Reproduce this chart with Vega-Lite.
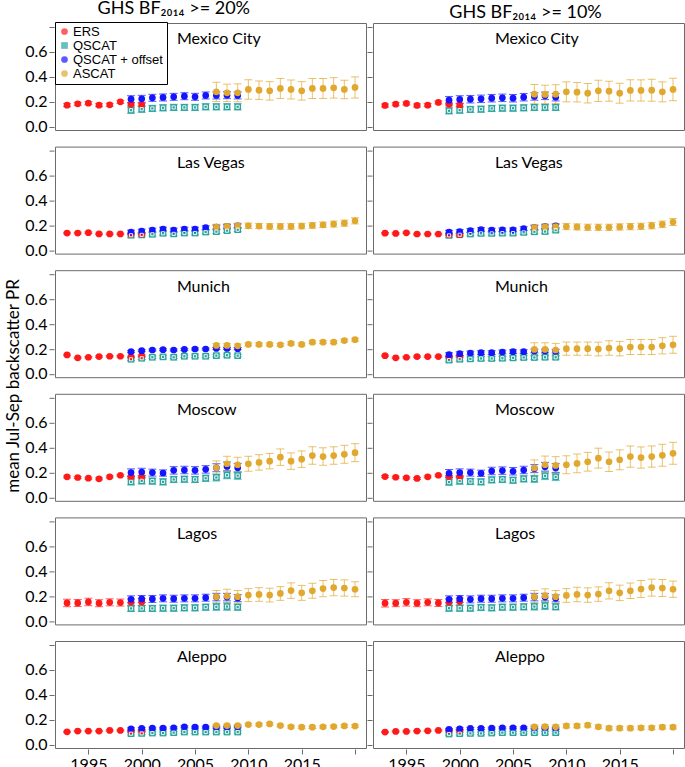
{
"$schema": "https://vega.github.io/schema/vega-lite/v6.json",
"padding": {"left": 4, "top": 0, "right": 0, "bottom": 0},
"config": {
  "font": "Lato",
  "view": {"stroke": "#6b6b6b", "strokeWidth": 1},
  "axis": {"labelFont": "Lato", "labelFontSize": 16, "labelColor": "#000", "tickColor": "#6b6b6b", "domain": false, "grid": false, "tickSize": 5, "labelPadding": 2, "labelOverlap": false, "labelBound": false, "minExtent": 0},
  "axisY": {"tickCount": 5},
  "title": {"font": "Lato", "fontSize": 18, "fontWeight": "normal", "anchor": "middle", "offset": 0.5, "color": "#000"}
},
"spacing": -1,
"data": {"values": [
{"c":"Mexico City","g":20,"s":"QSCAT","x":1999,"v":0.133,"e":0.025},
{"c":"Mexico City","g":20,"s":"QSCAT","x":2000,"v":0.141,"e":0.025},
{"c":"Mexico City","g":20,"s":"QSCAT","x":2001,"v":0.147,"e":0.025},
{"c":"Mexico City","g":20,"s":"QSCAT","x":2002,"v":0.152,"e":0.025},
{"c":"Mexico City","g":20,"s":"QSCAT","x":2003,"v":0.155,"e":0.025},
{"c":"Mexico City","g":20,"s":"QSCAT","x":2004,"v":0.155,"e":0.025},
{"c":"Mexico City","g":20,"s":"QSCAT","x":2005,"v":0.155,"e":0.025},
{"c":"Mexico City","g":20,"s":"QSCAT","x":2006,"v":0.16,"e":0.025},
{"c":"Mexico City","g":20,"s":"QSCAT","x":2007,"v":0.16,"e":0.025},
{"c":"Mexico City","g":20,"s":"QSCAT","x":2008,"v":0.16,"e":0.025},
{"c":"Mexico City","g":20,"s":"QSCAT","x":2009,"v":0.16,"e":0.025},
{"c":"Mexico City","g":20,"s":"ERS","x":1993,"v":0.173,"e":0.012},
{"c":"Mexico City","g":20,"s":"ERS","x":1994,"v":0.184,"e":0.012},
{"c":"Mexico City","g":20,"s":"ERS","x":1995,"v":0.189,"e":0.012},
{"c":"Mexico City","g":20,"s":"ERS","x":1996,"v":0.173,"e":0.012},
{"c":"Mexico City","g":20,"s":"ERS","x":1997,"v":0.176,"e":0.012},
{"c":"Mexico City","g":20,"s":"ERS","x":1998,"v":0.2,"e":0.012},
{"c":"Mexico City","g":20,"s":"ERS","x":1999,"v":0.18,"e":0.012},
{"c":"Mexico City","g":20,"s":"ERS","x":2000,"v":0.176,"e":0.012},
{"c":"Mexico City","g":20,"s":"QSCAT + offset","x":1999,"v":0.221,"e":0.028},
{"c":"Mexico City","g":20,"s":"QSCAT + offset","x":2000,"v":0.224,"e":0.028},
{"c":"Mexico City","g":20,"s":"QSCAT + offset","x":2001,"v":0.232,"e":0.028},
{"c":"Mexico City","g":20,"s":"QSCAT + offset","x":2002,"v":0.235,"e":0.028},
{"c":"Mexico City","g":20,"s":"QSCAT + offset","x":2003,"v":0.24,"e":0.028},
{"c":"Mexico City","g":20,"s":"QSCAT + offset","x":2004,"v":0.245,"e":0.028},
{"c":"Mexico City","g":20,"s":"QSCAT + offset","x":2005,"v":0.24,"e":0.028},
{"c":"Mexico City","g":20,"s":"QSCAT + offset","x":2006,"v":0.251,"e":0.028},
{"c":"Mexico City","g":20,"s":"QSCAT + offset","x":2007,"v":0.251,"e":0.028},
{"c":"Mexico City","g":20,"s":"QSCAT + offset","x":2008,"v":0.253,"e":0.028},
{"c":"Mexico City","g":20,"s":"QSCAT + offset","x":2009,"v":0.251,"e":0.028},
{"c":"Mexico City","g":20,"s":"ASCAT","x":2007,"v":0.28,"e":0.077},
{"c":"Mexico City","g":20,"s":"ASCAT","x":2008,"v":0.272,"e":0.07},
{"c":"Mexico City","g":20,"s":"ASCAT","x":2009,"v":0.272,"e":0.072},
{"c":"Mexico City","g":20,"s":"ASCAT","x":2010,"v":0.299,"e":0.078},
{"c":"Mexico City","g":20,"s":"ASCAT","x":2011,"v":0.293,"e":0.074},
{"c":"Mexico City","g":20,"s":"ASCAT","x":2012,"v":0.288,"e":0.074},
{"c":"Mexico City","g":20,"s":"ASCAT","x":2013,"v":0.307,"e":0.08},
{"c":"Mexico City","g":20,"s":"ASCAT","x":2014,"v":0.299,"e":0.076},
{"c":"Mexico City","g":20,"s":"ASCAT","x":2015,"v":0.288,"e":0.074},
{"c":"Mexico City","g":20,"s":"ASCAT","x":2016,"v":0.307,"e":0.08},
{"c":"Mexico City","g":20,"s":"ASCAT","x":2017,"v":0.307,"e":0.08},
{"c":"Mexico City","g":20,"s":"ASCAT","x":2018,"v":0.312,"e":0.082},
{"c":"Mexico City","g":20,"s":"ASCAT","x":2019,"v":0.299,"e":0.074},
{"c":"Mexico City","g":20,"s":"ASCAT","x":2020,"v":0.315,"e":0.085},
{"c":"Mexico City","g":10,"s":"QSCAT","x":1999,"v":0.128,"e":0.025},
{"c":"Mexico City","g":10,"s":"QSCAT","x":2000,"v":0.133,"e":0.025},
{"c":"Mexico City","g":10,"s":"QSCAT","x":2001,"v":0.139,"e":0.025},
{"c":"Mexico City","g":10,"s":"QSCAT","x":2002,"v":0.141,"e":0.025},
{"c":"Mexico City","g":10,"s":"QSCAT","x":2003,"v":0.147,"e":0.025},
{"c":"Mexico City","g":10,"s":"QSCAT","x":2004,"v":0.149,"e":0.025},
{"c":"Mexico City","g":10,"s":"QSCAT","x":2005,"v":0.149,"e":0.025},
{"c":"Mexico City","g":10,"s":"QSCAT","x":2006,"v":0.152,"e":0.025},
{"c":"Mexico City","g":10,"s":"QSCAT","x":2007,"v":0.155,"e":0.025},
{"c":"Mexico City","g":10,"s":"QSCAT","x":2008,"v":0.155,"e":0.025},
{"c":"Mexico City","g":10,"s":"QSCAT","x":2009,"v":0.155,"e":0.025},
{"c":"Mexico City","g":10,"s":"ERS","x":1993,"v":0.171,"e":0.012},
{"c":"Mexico City","g":10,"s":"ERS","x":1994,"v":0.181,"e":0.012},
{"c":"Mexico City","g":10,"s":"ERS","x":1995,"v":0.187,"e":0.012},
{"c":"Mexico City","g":10,"s":"ERS","x":1996,"v":0.171,"e":0.012},
{"c":"Mexico City","g":10,"s":"ERS","x":1997,"v":0.173,"e":0.012},
{"c":"Mexico City","g":10,"s":"ERS","x":1998,"v":0.195,"e":0.012},
{"c":"Mexico City","g":10,"s":"ERS","x":1999,"v":0.18,"e":0.012},
{"c":"Mexico City","g":10,"s":"ERS","x":2000,"v":0.173,"e":0.012},
{"c":"Mexico City","g":10,"s":"QSCAT + offset","x":1999,"v":0.213,"e":0.03},
{"c":"Mexico City","g":10,"s":"QSCAT + offset","x":2000,"v":0.219,"e":0.03},
{"c":"Mexico City","g":10,"s":"QSCAT + offset","x":2001,"v":0.221,"e":0.03},
{"c":"Mexico City","g":10,"s":"QSCAT + offset","x":2002,"v":0.224,"e":0.03},
{"c":"Mexico City","g":10,"s":"QSCAT + offset","x":2003,"v":0.229,"e":0.03},
{"c":"Mexico City","g":10,"s":"QSCAT + offset","x":2004,"v":0.232,"e":0.03},
{"c":"Mexico City","g":10,"s":"QSCAT + offset","x":2005,"v":0.229,"e":0.03},
{"c":"Mexico City","g":10,"s":"QSCAT + offset","x":2006,"v":0.237,"e":0.03},
{"c":"Mexico City","g":10,"s":"QSCAT + offset","x":2007,"v":0.243,"e":0.03},
{"c":"Mexico City","g":10,"s":"QSCAT + offset","x":2008,"v":0.248,"e":0.03},
{"c":"Mexico City","g":10,"s":"QSCAT + offset","x":2009,"v":0.237,"e":0.03},
{"c":"Mexico City","g":10,"s":"ASCAT","x":2007,"v":0.261,"e":0.078},
{"c":"Mexico City","g":10,"s":"ASCAT","x":2008,"v":0.259,"e":0.074},
{"c":"Mexico City","g":10,"s":"ASCAT","x":2009,"v":0.261,"e":0.076},
{"c":"Mexico City","g":10,"s":"ASCAT","x":2010,"v":0.28,"e":0.08},
{"c":"Mexico City","g":10,"s":"ASCAT","x":2011,"v":0.277,"e":0.078},
{"c":"Mexico City","g":10,"s":"ASCAT","x":2012,"v":0.269,"e":0.078},
{"c":"Mexico City","g":10,"s":"ASCAT","x":2013,"v":0.288,"e":0.085},
{"c":"Mexico City","g":10,"s":"ASCAT","x":2014,"v":0.285,"e":0.08},
{"c":"Mexico City","g":10,"s":"ASCAT","x":2015,"v":0.269,"e":0.08},
{"c":"Mexico City","g":10,"s":"ASCAT","x":2016,"v":0.291,"e":0.085},
{"c":"Mexico City","g":10,"s":"ASCAT","x":2017,"v":0.291,"e":0.085},
{"c":"Mexico City","g":10,"s":"ASCAT","x":2018,"v":0.293,"e":0.088},
{"c":"Mexico City","g":10,"s":"ASCAT","x":2019,"v":0.28,"e":0.08},
{"c":"Mexico City","g":10,"s":"ASCAT","x":2020,"v":0.299,"e":0.09},
{"c":"Las Vegas","g":20,"s":"QSCAT","x":1999,"v":0.121,"e":0.015},
{"c":"Las Vegas","g":20,"s":"QSCAT","x":2000,"v":0.124,"e":0.015},
{"c":"Las Vegas","g":20,"s":"QSCAT","x":2001,"v":0.129,"e":0.015},
{"c":"Las Vegas","g":20,"s":"QSCAT","x":2002,"v":0.137,"e":0.015},
{"c":"Las Vegas","g":20,"s":"QSCAT","x":2003,"v":0.132,"e":0.015},
{"c":"Las Vegas","g":20,"s":"QSCAT","x":2004,"v":0.139,"e":0.015},
{"c":"Las Vegas","g":20,"s":"QSCAT","x":2005,"v":0.139,"e":0.015},
{"c":"Las Vegas","g":20,"s":"QSCAT","x":2006,"v":0.147,"e":0.015},
{"c":"Las Vegas","g":20,"s":"QSCAT","x":2007,"v":0.15,"e":0.015},
{"c":"Las Vegas","g":20,"s":"QSCAT","x":2008,"v":0.158,"e":0.015},
{"c":"Las Vegas","g":20,"s":"QSCAT","x":2009,"v":0.166,"e":0.015},
{"c":"Las Vegas","g":20,"s":"ERS","x":1993,"v":0.139,"e":0.006},
{"c":"Las Vegas","g":20,"s":"ERS","x":1994,"v":0.139,"e":0.006},
{"c":"Las Vegas","g":20,"s":"ERS","x":1995,"v":0.142,"e":0.006},
{"c":"Las Vegas","g":20,"s":"ERS","x":1996,"v":0.132,"e":0.006},
{"c":"Las Vegas","g":20,"s":"ERS","x":1997,"v":0.132,"e":0.006},
{"c":"Las Vegas","g":20,"s":"ERS","x":1998,"v":0.132,"e":0.006},
{"c":"Las Vegas","g":20,"s":"ERS","x":1999,"v":0.13,"e":0.006},
{"c":"Las Vegas","g":20,"s":"ERS","x":2000,"v":0.13,"e":0.006},
{"c":"Las Vegas","g":20,"s":"QSCAT + offset","x":1999,"v":0.147,"e":0.015},
{"c":"Las Vegas","g":20,"s":"QSCAT + offset","x":2000,"v":0.155,"e":0.015},
{"c":"Las Vegas","g":20,"s":"QSCAT + offset","x":2001,"v":0.163,"e":0.015},
{"c":"Las Vegas","g":20,"s":"QSCAT + offset","x":2002,"v":0.171,"e":0.015},
{"c":"Las Vegas","g":20,"s":"QSCAT + offset","x":2003,"v":0.163,"e":0.015},
{"c":"Las Vegas","g":20,"s":"QSCAT + offset","x":2004,"v":0.171,"e":0.015},
{"c":"Las Vegas","g":20,"s":"QSCAT + offset","x":2005,"v":0.171,"e":0.015},
{"c":"Las Vegas","g":20,"s":"QSCAT + offset","x":2006,"v":0.182,"e":0.015},
{"c":"Las Vegas","g":20,"s":"QSCAT + offset","x":2007,"v":0.187,"e":0.015},
{"c":"Las Vegas","g":20,"s":"QSCAT + offset","x":2008,"v":0.192,"e":0.015},
{"c":"Las Vegas","g":20,"s":"QSCAT + offset","x":2009,"v":0.197,"e":0.015},
{"c":"Las Vegas","g":20,"s":"ASCAT","x":2007,"v":0.187,"e":0.022},
{"c":"Las Vegas","g":20,"s":"ASCAT","x":2008,"v":0.192,"e":0.022},
{"c":"Las Vegas","g":20,"s":"ASCAT","x":2009,"v":0.197,"e":0.022},
{"c":"Las Vegas","g":20,"s":"ASCAT","x":2010,"v":0.197,"e":0.022},
{"c":"Las Vegas","g":20,"s":"ASCAT","x":2011,"v":0.195,"e":0.02},
{"c":"Las Vegas","g":20,"s":"ASCAT","x":2012,"v":0.192,"e":0.022},
{"c":"Las Vegas","g":20,"s":"ASCAT","x":2013,"v":0.192,"e":0.022},
{"c":"Las Vegas","g":20,"s":"ASCAT","x":2014,"v":0.192,"e":0.022},
{"c":"Las Vegas","g":20,"s":"ASCAT","x":2015,"v":0.195,"e":0.022},
{"c":"Las Vegas","g":20,"s":"ASCAT","x":2016,"v":0.2,"e":0.022},
{"c":"Las Vegas","g":20,"s":"ASCAT","x":2017,"v":0.205,"e":0.022},
{"c":"Las Vegas","g":20,"s":"ASCAT","x":2018,"v":0.211,"e":0.024},
{"c":"Las Vegas","g":20,"s":"ASCAT","x":2019,"v":0.218,"e":0.024},
{"c":"Las Vegas","g":20,"s":"ASCAT","x":2020,"v":0.237,"e":0.025},
{"c":"Las Vegas","g":10,"s":"QSCAT","x":1999,"v":0.12,"e":0.015},
{"c":"Las Vegas","g":10,"s":"QSCAT","x":2000,"v":0.125,"e":0.015},
{"c":"Las Vegas","g":10,"s":"QSCAT","x":2001,"v":0.131,"e":0.015},
{"c":"Las Vegas","g":10,"s":"QSCAT","x":2002,"v":0.136,"e":0.015},
{"c":"Las Vegas","g":10,"s":"QSCAT","x":2003,"v":0.136,"e":0.015},
{"c":"Las Vegas","g":10,"s":"QSCAT","x":2004,"v":0.138,"e":0.015},
{"c":"Las Vegas","g":10,"s":"QSCAT","x":2005,"v":0.138,"e":0.015},
{"c":"Las Vegas","g":10,"s":"QSCAT","x":2006,"v":0.144,"e":0.015},
{"c":"Las Vegas","g":10,"s":"QSCAT","x":2007,"v":0.149,"e":0.015},
{"c":"Las Vegas","g":10,"s":"QSCAT","x":2008,"v":0.151,"e":0.015},
{"c":"Las Vegas","g":10,"s":"QSCAT","x":2009,"v":0.162,"e":0.015},
{"c":"Las Vegas","g":10,"s":"ERS","x":1993,"v":0.138,"e":0.006},
{"c":"Las Vegas","g":10,"s":"ERS","x":1994,"v":0.136,"e":0.006},
{"c":"Las Vegas","g":10,"s":"ERS","x":1995,"v":0.141,"e":0.006},
{"c":"Las Vegas","g":10,"s":"ERS","x":1996,"v":0.131,"e":0.006},
{"c":"Las Vegas","g":10,"s":"ERS","x":1997,"v":0.131,"e":0.006},
{"c":"Las Vegas","g":10,"s":"ERS","x":1998,"v":0.131,"e":0.006},
{"c":"Las Vegas","g":10,"s":"ERS","x":1999,"v":0.125,"e":0.006},
{"c":"Las Vegas","g":10,"s":"ERS","x":2000,"v":0.125,"e":0.006},
{"c":"Las Vegas","g":10,"s":"QSCAT + offset","x":1999,"v":0.146,"e":0.015},
{"c":"Las Vegas","g":10,"s":"QSCAT + offset","x":2000,"v":0.151,"e":0.015},
{"c":"Las Vegas","g":10,"s":"QSCAT + offset","x":2001,"v":0.159,"e":0.015},
{"c":"Las Vegas","g":10,"s":"QSCAT + offset","x":2002,"v":0.167,"e":0.015},
{"c":"Las Vegas","g":10,"s":"QSCAT + offset","x":2003,"v":0.162,"e":0.015},
{"c":"Las Vegas","g":10,"s":"QSCAT + offset","x":2004,"v":0.164,"e":0.015},
{"c":"Las Vegas","g":10,"s":"QSCAT + offset","x":2005,"v":0.164,"e":0.015},
{"c":"Las Vegas","g":10,"s":"QSCAT + offset","x":2006,"v":0.175,"e":0.015},
{"c":"Las Vegas","g":10,"s":"QSCAT + offset","x":2007,"v":0.183,"e":0.015},
{"c":"Las Vegas","g":10,"s":"QSCAT + offset","x":2008,"v":0.19,"e":0.015},
{"c":"Las Vegas","g":10,"s":"QSCAT + offset","x":2009,"v":0.196,"e":0.015},
{"c":"Las Vegas","g":10,"s":"ASCAT","x":2007,"v":0.183,"e":0.025},
{"c":"Las Vegas","g":10,"s":"ASCAT","x":2008,"v":0.188,"e":0.025},
{"c":"Las Vegas","g":10,"s":"ASCAT","x":2009,"v":0.191,"e":0.025},
{"c":"Las Vegas","g":10,"s":"ASCAT","x":2010,"v":0.191,"e":0.025},
{"c":"Las Vegas","g":10,"s":"ASCAT","x":2011,"v":0.188,"e":0.024},
{"c":"Las Vegas","g":10,"s":"ASCAT","x":2012,"v":0.185,"e":0.025},
{"c":"Las Vegas","g":10,"s":"ASCAT","x":2013,"v":0.185,"e":0.025},
{"c":"Las Vegas","g":10,"s":"ASCAT","x":2014,"v":0.185,"e":0.025},
{"c":"Las Vegas","g":10,"s":"ASCAT","x":2015,"v":0.188,"e":0.025},
{"c":"Las Vegas","g":10,"s":"ASCAT","x":2016,"v":0.191,"e":0.025},
{"c":"Las Vegas","g":10,"s":"ASCAT","x":2017,"v":0.193,"e":0.025},
{"c":"Las Vegas","g":10,"s":"ASCAT","x":2018,"v":0.198,"e":0.026},
{"c":"Las Vegas","g":10,"s":"ASCAT","x":2019,"v":0.209,"e":0.026},
{"c":"Las Vegas","g":10,"s":"ASCAT","x":2020,"v":0.227,"e":0.028},
{"c":"Munich","g":20,"s":"QSCAT","x":1999,"v":0.118,"e":0.01},
{"c":"Munich","g":20,"s":"QSCAT","x":2000,"v":0.126,"e":0.01},
{"c":"Munich","g":20,"s":"QSCAT","x":2001,"v":0.134,"e":0.01},
{"c":"Munich","g":20,"s":"QSCAT","x":2002,"v":0.137,"e":0.01},
{"c":"Munich","g":20,"s":"QSCAT","x":2003,"v":0.134,"e":0.01},
{"c":"Munich","g":20,"s":"QSCAT","x":2004,"v":0.142,"e":0.01},
{"c":"Munich","g":20,"s":"QSCAT","x":2005,"v":0.142,"e":0.01},
{"c":"Munich","g":20,"s":"QSCAT","x":2006,"v":0.142,"e":0.01},
{"c":"Munich","g":20,"s":"QSCAT","x":2007,"v":0.147,"e":0.01},
{"c":"Munich","g":20,"s":"QSCAT","x":2008,"v":0.15,"e":0.01},
{"c":"Munich","g":20,"s":"QSCAT","x":2009,"v":0.147,"e":0.01},
{"c":"Munich","g":20,"s":"ERS","x":1993,"v":0.153,"e":0.006},
{"c":"Munich","g":20,"s":"ERS","x":1994,"v":0.129,"e":0.006},
{"c":"Munich","g":20,"s":"ERS","x":1995,"v":0.134,"e":0.006},
{"c":"Munich","g":20,"s":"ERS","x":1996,"v":0.139,"e":0.006},
{"c":"Munich","g":20,"s":"ERS","x":1997,"v":0.142,"e":0.006},
{"c":"Munich","g":20,"s":"ERS","x":1998,"v":0.142,"e":0.006},
{"c":"Munich","g":20,"s":"ERS","x":1999,"v":0.137,"e":0.006},
{"c":"Munich","g":20,"s":"ERS","x":2000,"v":0.147,"e":0.006},
{"c":"Munich","g":20,"s":"QSCAT + offset","x":1999,"v":0.179,"e":0.008},
{"c":"Munich","g":20,"s":"QSCAT + offset","x":2000,"v":0.187,"e":0.008},
{"c":"Munich","g":20,"s":"QSCAT + offset","x":2001,"v":0.192,"e":0.008},
{"c":"Munich","g":20,"s":"QSCAT + offset","x":2002,"v":0.195,"e":0.008},
{"c":"Munich","g":20,"s":"QSCAT + offset","x":2003,"v":0.192,"e":0.008},
{"c":"Munich","g":20,"s":"QSCAT + offset","x":2004,"v":0.197,"e":0.008},
{"c":"Munich","g":20,"s":"QSCAT + offset","x":2005,"v":0.2,"e":0.008},
{"c":"Munich","g":20,"s":"QSCAT + offset","x":2006,"v":0.2,"e":0.008},
{"c":"Munich","g":20,"s":"QSCAT + offset","x":2007,"v":0.205,"e":0.008},
{"c":"Munich","g":20,"s":"QSCAT + offset","x":2008,"v":0.205,"e":0.008},
{"c":"Munich","g":20,"s":"QSCAT + offset","x":2009,"v":0.203,"e":0.008},
{"c":"Munich","g":20,"s":"ASCAT","x":2007,"v":0.229,"e":0.014},
{"c":"Munich","g":20,"s":"ASCAT","x":2008,"v":0.229,"e":0.014},
{"c":"Munich","g":20,"s":"ASCAT","x":2009,"v":0.226,"e":0.014},
{"c":"Munich","g":20,"s":"ASCAT","x":2010,"v":0.237,"e":0.012},
{"c":"Munich","g":20,"s":"ASCAT","x":2011,"v":0.237,"e":0.012},
{"c":"Munich","g":20,"s":"ASCAT","x":2012,"v":0.237,"e":0.012},
{"c":"Munich","g":20,"s":"ASCAT","x":2013,"v":0.234,"e":0.012},
{"c":"Munich","g":20,"s":"ASCAT","x":2014,"v":0.245,"e":0.012},
{"c":"Munich","g":20,"s":"ASCAT","x":2015,"v":0.237,"e":0.012},
{"c":"Munich","g":20,"s":"ASCAT","x":2016,"v":0.255,"e":0.012},
{"c":"Munich","g":20,"s":"ASCAT","x":2017,"v":0.255,"e":0.012},
{"c":"Munich","g":20,"s":"ASCAT","x":2018,"v":0.255,"e":0.012},
{"c":"Munich","g":20,"s":"ASCAT","x":2019,"v":0.268,"e":0.012},
{"c":"Munich","g":20,"s":"ASCAT","x":2020,"v":0.275,"e":0.012},
{"c":"Munich","g":10,"s":"QSCAT","x":1999,"v":0.111,"e":0.015},
{"c":"Munich","g":10,"s":"QSCAT","x":2000,"v":0.118,"e":0.015},
{"c":"Munich","g":10,"s":"QSCAT","x":2001,"v":0.121,"e":0.015},
{"c":"Munich","g":10,"s":"QSCAT","x":2002,"v":0.124,"e":0.015},
{"c":"Munich","g":10,"s":"QSCAT","x":2003,"v":0.124,"e":0.015},
{"c":"Munich","g":10,"s":"QSCAT","x":2004,"v":0.126,"e":0.015},
{"c":"Munich","g":10,"s":"QSCAT","x":2005,"v":0.129,"e":0.015},
{"c":"Munich","g":10,"s":"QSCAT","x":2006,"v":0.132,"e":0.015},
{"c":"Munich","g":10,"s":"QSCAT","x":2007,"v":0.132,"e":0.015},
{"c":"Munich","g":10,"s":"QSCAT","x":2008,"v":0.134,"e":0.015},
{"c":"Munich","g":10,"s":"QSCAT","x":2009,"v":0.134,"e":0.015},
{"c":"Munich","g":10,"s":"ERS","x":1993,"v":0.147,"e":0.006},
{"c":"Munich","g":10,"s":"ERS","x":1994,"v":0.129,"e":0.006},
{"c":"Munich","g":10,"s":"ERS","x":1995,"v":0.134,"e":0.006},
{"c":"Munich","g":10,"s":"ERS","x":1996,"v":0.139,"e":0.006},
{"c":"Munich","g":10,"s":"ERS","x":1997,"v":0.139,"e":0.006},
{"c":"Munich","g":10,"s":"ERS","x":1998,"v":0.139,"e":0.006},
{"c":"Munich","g":10,"s":"ERS","x":1999,"v":0.139,"e":0.006},
{"c":"Munich","g":10,"s":"ERS","x":2000,"v":0.145,"e":0.006},
{"c":"Munich","g":10,"s":"QSCAT + offset","x":1999,"v":0.155,"e":0.015},
{"c":"Munich","g":10,"s":"QSCAT + offset","x":2000,"v":0.163,"e":0.015},
{"c":"Munich","g":10,"s":"QSCAT + offset","x":2001,"v":0.168,"e":0.015},
{"c":"Munich","g":10,"s":"QSCAT + offset","x":2002,"v":0.171,"e":0.015},
{"c":"Munich","g":10,"s":"QSCAT + offset","x":2003,"v":0.171,"e":0.015},
{"c":"Munich","g":10,"s":"QSCAT + offset","x":2004,"v":0.176,"e":0.015},
{"c":"Munich","g":10,"s":"QSCAT + offset","x":2005,"v":0.179,"e":0.015},
{"c":"Munich","g":10,"s":"QSCAT + offset","x":2006,"v":0.179,"e":0.015},
{"c":"Munich","g":10,"s":"QSCAT + offset","x":2007,"v":0.184,"e":0.015},
{"c":"Munich","g":10,"s":"QSCAT + offset","x":2008,"v":0.184,"e":0.015},
{"c":"Munich","g":10,"s":"QSCAT + offset","x":2009,"v":0.182,"e":0.015},
{"c":"Munich","g":10,"s":"ASCAT","x":2007,"v":0.197,"e":0.053},
{"c":"Munich","g":10,"s":"ASCAT","x":2008,"v":0.197,"e":0.053},
{"c":"Munich","g":10,"s":"ASCAT","x":2009,"v":0.192,"e":0.053},
{"c":"Munich","g":10,"s":"ASCAT","x":2010,"v":0.203,"e":0.053},
{"c":"Munich","g":10,"s":"ASCAT","x":2011,"v":0.203,"e":0.053},
{"c":"Munich","g":10,"s":"ASCAT","x":2012,"v":0.203,"e":0.053},
{"c":"Munich","g":10,"s":"ASCAT","x":2013,"v":0.2,"e":0.055},
{"c":"Munich","g":10,"s":"ASCAT","x":2014,"v":0.208,"e":0.058},
{"c":"Munich","g":10,"s":"ASCAT","x":2015,"v":0.203,"e":0.058},
{"c":"Munich","g":10,"s":"ASCAT","x":2016,"v":0.216,"e":0.06},
{"c":"Munich","g":10,"s":"ASCAT","x":2017,"v":0.216,"e":0.06},
{"c":"Munich","g":10,"s":"ASCAT","x":2018,"v":0.216,"e":0.06},
{"c":"Munich","g":10,"s":"ASCAT","x":2019,"v":0.226,"e":0.065},
{"c":"Munich","g":10,"s":"ASCAT","x":2020,"v":0.234,"e":0.068},
{"c":"Moscow","g":20,"s":"QSCAT","x":1999,"v":0.126,"e":0.025},
{"c":"Moscow","g":20,"s":"QSCAT","x":2000,"v":0.134,"e":0.025},
{"c":"Moscow","g":20,"s":"QSCAT","x":2001,"v":0.132,"e":0.025},
{"c":"Moscow","g":20,"s":"QSCAT","x":2002,"v":0.126,"e":0.025},
{"c":"Moscow","g":20,"s":"QSCAT","x":2003,"v":0.145,"e":0.025},
{"c":"Moscow","g":20,"s":"QSCAT","x":2004,"v":0.147,"e":0.025},
{"c":"Moscow","g":20,"s":"QSCAT","x":2005,"v":0.145,"e":0.025},
{"c":"Moscow","g":20,"s":"QSCAT","x":2006,"v":0.155,"e":0.025},
{"c":"Moscow","g":20,"s":"QSCAT","x":2007,"v":0.161,"e":0.028},
{"c":"Moscow","g":20,"s":"QSCAT","x":2008,"v":0.179,"e":0.028},
{"c":"Moscow","g":20,"s":"QSCAT","x":2009,"v":0.176,"e":0.03},
{"c":"Moscow","g":20,"s":"ERS","x":1993,"v":0.166,"e":0.008},
{"c":"Moscow","g":20,"s":"ERS","x":1994,"v":0.161,"e":0.008},
{"c":"Moscow","g":20,"s":"ERS","x":1995,"v":0.155,"e":0.008},
{"c":"Moscow","g":20,"s":"ERS","x":1996,"v":0.15,"e":0.008},
{"c":"Moscow","g":20,"s":"ERS","x":1997,"v":0.166,"e":0.008},
{"c":"Moscow","g":20,"s":"ERS","x":1998,"v":0.179,"e":0.008},
{"c":"Moscow","g":20,"s":"ERS","x":1999,"v":0.166,"e":0.008},
{"c":"Moscow","g":20,"s":"ERS","x":2000,"v":0.166,"e":0.008},
{"c":"Moscow","g":20,"s":"QSCAT + offset","x":1999,"v":0.2,"e":0.03},
{"c":"Moscow","g":20,"s":"QSCAT + offset","x":2000,"v":0.205,"e":0.03},
{"c":"Moscow","g":20,"s":"QSCAT + offset","x":2001,"v":0.2,"e":0.028},
{"c":"Moscow","g":20,"s":"QSCAT + offset","x":2002,"v":0.197,"e":0.025},
{"c":"Moscow","g":20,"s":"QSCAT + offset","x":2003,"v":0.218,"e":0.03},
{"c":"Moscow","g":20,"s":"QSCAT + offset","x":2004,"v":0.221,"e":0.03},
{"c":"Moscow","g":20,"s":"QSCAT + offset","x":2005,"v":0.218,"e":0.03},
{"c":"Moscow","g":20,"s":"QSCAT + offset","x":2006,"v":0.226,"e":0.03},
{"c":"Moscow","g":20,"s":"QSCAT + offset","x":2007,"v":0.239,"e":0.032},
{"c":"Moscow","g":20,"s":"QSCAT + offset","x":2008,"v":0.25,"e":0.035},
{"c":"Moscow","g":20,"s":"QSCAT + offset","x":2009,"v":0.239,"e":0.035},
{"c":"Moscow","g":20,"s":"ASCAT","x":2007,"v":0.239,"e":0.055},
{"c":"Moscow","g":20,"s":"ASCAT","x":2008,"v":0.271,"e":0.06},
{"c":"Moscow","g":20,"s":"ASCAT","x":2009,"v":0.263,"e":0.06},
{"c":"Moscow","g":20,"s":"ASCAT","x":2010,"v":0.271,"e":0.06},
{"c":"Moscow","g":20,"s":"ASCAT","x":2011,"v":0.282,"e":0.062},
{"c":"Moscow","g":20,"s":"ASCAT","x":2012,"v":0.292,"e":0.062},
{"c":"Moscow","g":20,"s":"ASCAT","x":2013,"v":0.324,"e":0.066},
{"c":"Moscow","g":20,"s":"ASCAT","x":2014,"v":0.292,"e":0.066},
{"c":"Moscow","g":20,"s":"ASCAT","x":2015,"v":0.308,"e":0.066},
{"c":"Moscow","g":20,"s":"ASCAT","x":2016,"v":0.337,"e":0.07},
{"c":"Moscow","g":20,"s":"ASCAT","x":2017,"v":0.329,"e":0.07},
{"c":"Moscow","g":20,"s":"ASCAT","x":2018,"v":0.337,"e":0.07},
{"c":"Moscow","g":20,"s":"ASCAT","x":2019,"v":0.347,"e":0.072},
{"c":"Moscow","g":20,"s":"ASCAT","x":2020,"v":0.36,"e":0.072},
{"c":"Moscow","g":10,"s":"QSCAT","x":1999,"v":0.124,"e":0.025},
{"c":"Moscow","g":10,"s":"QSCAT","x":2000,"v":0.132,"e":0.025},
{"c":"Moscow","g":10,"s":"QSCAT","x":2001,"v":0.129,"e":0.025},
{"c":"Moscow","g":10,"s":"QSCAT","x":2002,"v":0.126,"e":0.025},
{"c":"Moscow","g":10,"s":"QSCAT","x":2003,"v":0.142,"e":0.025},
{"c":"Moscow","g":10,"s":"QSCAT","x":2004,"v":0.145,"e":0.025},
{"c":"Moscow","g":10,"s":"QSCAT","x":2005,"v":0.139,"e":0.025},
{"c":"Moscow","g":10,"s":"QSCAT","x":2006,"v":0.15,"e":0.025},
{"c":"Moscow","g":10,"s":"QSCAT","x":2007,"v":0.15,"e":0.028},
{"c":"Moscow","g":10,"s":"QSCAT","x":2008,"v":0.174,"e":0.03},
{"c":"Moscow","g":10,"s":"QSCAT","x":2009,"v":0.166,"e":0.03},
{"c":"Moscow","g":10,"s":"ERS","x":1993,"v":0.168,"e":0.008},
{"c":"Moscow","g":10,"s":"ERS","x":1994,"v":0.163,"e":0.008},
{"c":"Moscow","g":10,"s":"ERS","x":1995,"v":0.158,"e":0.008},
{"c":"Moscow","g":10,"s":"ERS","x":1996,"v":0.153,"e":0.008},
{"c":"Moscow","g":10,"s":"ERS","x":1997,"v":0.166,"e":0.008},
{"c":"Moscow","g":10,"s":"ERS","x":1998,"v":0.179,"e":0.008},
{"c":"Moscow","g":10,"s":"ERS","x":1999,"v":0.168,"e":0.008},
{"c":"Moscow","g":10,"s":"ERS","x":2000,"v":0.168,"e":0.008},
{"c":"Moscow","g":10,"s":"QSCAT + offset","x":1999,"v":0.195,"e":0.03},
{"c":"Moscow","g":10,"s":"QSCAT + offset","x":2000,"v":0.2,"e":0.03},
{"c":"Moscow","g":10,"s":"QSCAT + offset","x":2001,"v":0.2,"e":0.028},
{"c":"Moscow","g":10,"s":"QSCAT + offset","x":2002,"v":0.195,"e":0.025},
{"c":"Moscow","g":10,"s":"QSCAT + offset","x":2003,"v":0.213,"e":0.03},
{"c":"Moscow","g":10,"s":"QSCAT + offset","x":2004,"v":0.216,"e":0.03},
{"c":"Moscow","g":10,"s":"QSCAT + offset","x":2005,"v":0.211,"e":0.03},
{"c":"Moscow","g":10,"s":"QSCAT + offset","x":2006,"v":0.221,"e":0.03},
{"c":"Moscow","g":10,"s":"QSCAT + offset","x":2007,"v":0.232,"e":0.032},
{"c":"Moscow","g":10,"s":"QSCAT + offset","x":2008,"v":0.247,"e":0.035},
{"c":"Moscow","g":10,"s":"QSCAT + offset","x":2009,"v":0.237,"e":0.035},
{"c":"Moscow","g":10,"s":"ASCAT","x":2007,"v":0.237,"e":0.065},
{"c":"Moscow","g":10,"s":"ASCAT","x":2008,"v":0.263,"e":0.07},
{"c":"Moscow","g":10,"s":"ASCAT","x":2009,"v":0.258,"e":0.07},
{"c":"Moscow","g":10,"s":"ASCAT","x":2010,"v":0.263,"e":0.072},
{"c":"Moscow","g":10,"s":"ASCAT","x":2011,"v":0.274,"e":0.075},
{"c":"Moscow","g":10,"s":"ASCAT","x":2012,"v":0.287,"e":0.075},
{"c":"Moscow","g":10,"s":"ASCAT","x":2013,"v":0.316,"e":0.08},
{"c":"Moscow","g":10,"s":"ASCAT","x":2014,"v":0.287,"e":0.078},
{"c":"Moscow","g":10,"s":"ASCAT","x":2015,"v":0.303,"e":0.08},
{"c":"Moscow","g":10,"s":"ASCAT","x":2016,"v":0.329,"e":0.085},
{"c":"Moscow","g":10,"s":"ASCAT","x":2017,"v":0.321,"e":0.085},
{"c":"Moscow","g":10,"s":"ASCAT","x":2018,"v":0.329,"e":0.085},
{"c":"Moscow","g":10,"s":"ASCAT","x":2019,"v":0.339,"e":0.088},
{"c":"Moscow","g":10,"s":"ASCAT","x":2020,"v":0.355,"e":0.088},
{"c":"Lagos","g":20,"s":"QSCAT","x":1999,"v":0.102,"e":0.025},
{"c":"Lagos","g":20,"s":"QSCAT","x":2000,"v":0.102,"e":0.025},
{"c":"Lagos","g":20,"s":"QSCAT","x":2001,"v":0.102,"e":0.025},
{"c":"Lagos","g":20,"s":"QSCAT","x":2002,"v":0.104,"e":0.025},
{"c":"Lagos","g":20,"s":"QSCAT","x":2003,"v":0.104,"e":0.025},
{"c":"Lagos","g":20,"s":"QSCAT","x":2004,"v":0.107,"e":0.025},
{"c":"Lagos","g":20,"s":"QSCAT","x":2005,"v":0.107,"e":0.025},
{"c":"Lagos","g":20,"s":"QSCAT","x":2006,"v":0.112,"e":0.025},
{"c":"Lagos","g":20,"s":"QSCAT","x":2007,"v":0.115,"e":0.028},
{"c":"Lagos","g":20,"s":"QSCAT","x":2008,"v":0.117,"e":0.03},
{"c":"Lagos","g":20,"s":"QSCAT","x":2009,"v":0.112,"e":0.025},
{"c":"Lagos","g":20,"s":"ERS","x":1993,"v":0.146,"e":0.03},
{"c":"Lagos","g":20,"s":"ERS","x":1994,"v":0.146,"e":0.028},
{"c":"Lagos","g":20,"s":"ERS","x":1995,"v":0.154,"e":0.03},
{"c":"Lagos","g":20,"s":"ERS","x":1996,"v":0.144,"e":0.028},
{"c":"Lagos","g":20,"s":"ERS","x":1997,"v":0.151,"e":0.028},
{"c":"Lagos","g":20,"s":"ERS","x":1998,"v":0.149,"e":0.028},
{"c":"Lagos","g":20,"s":"ERS","x":1999,"v":0.151,"e":0.028},
{"c":"Lagos","g":20,"s":"ERS","x":2000,"v":0.154,"e":0.028},
{"c":"Lagos","g":20,"s":"QSCAT + offset","x":1999,"v":0.175,"e":0.028},
{"c":"Lagos","g":20,"s":"QSCAT + offset","x":2000,"v":0.178,"e":0.028},
{"c":"Lagos","g":20,"s":"QSCAT + offset","x":2001,"v":0.178,"e":0.028},
{"c":"Lagos","g":20,"s":"QSCAT + offset","x":2002,"v":0.183,"e":0.028},
{"c":"Lagos","g":20,"s":"QSCAT + offset","x":2003,"v":0.18,"e":0.028},
{"c":"Lagos","g":20,"s":"QSCAT + offset","x":2004,"v":0.183,"e":0.028},
{"c":"Lagos","g":20,"s":"QSCAT + offset","x":2005,"v":0.183,"e":0.028},
{"c":"Lagos","g":20,"s":"QSCAT + offset","x":2006,"v":0.188,"e":0.028},
{"c":"Lagos","g":20,"s":"QSCAT + offset","x":2007,"v":0.193,"e":0.03},
{"c":"Lagos","g":20,"s":"QSCAT + offset","x":2008,"v":0.193,"e":0.03},
{"c":"Lagos","g":20,"s":"QSCAT + offset","x":2009,"v":0.185,"e":0.028},
{"c":"Lagos","g":20,"s":"ASCAT","x":2007,"v":0.196,"e":0.05},
{"c":"Lagos","g":20,"s":"ASCAT","x":2008,"v":0.201,"e":0.055},
{"c":"Lagos","g":20,"s":"ASCAT","x":2009,"v":0.196,"e":0.05},
{"c":"Lagos","g":20,"s":"ASCAT","x":2010,"v":0.209,"e":0.052},
{"c":"Lagos","g":20,"s":"ASCAT","x":2011,"v":0.214,"e":0.055},
{"c":"Lagos","g":20,"s":"ASCAT","x":2012,"v":0.209,"e":0.055},
{"c":"Lagos","g":20,"s":"ASCAT","x":2013,"v":0.222,"e":0.055},
{"c":"Lagos","g":20,"s":"ASCAT","x":2014,"v":0.245,"e":0.062},
{"c":"Lagos","g":20,"s":"ASCAT","x":2015,"v":0.227,"e":0.06},
{"c":"Lagos","g":20,"s":"ASCAT","x":2016,"v":0.243,"e":0.06},
{"c":"Lagos","g":20,"s":"ASCAT","x":2017,"v":0.261,"e":0.065},
{"c":"Lagos","g":20,"s":"ASCAT","x":2018,"v":0.269,"e":0.065},
{"c":"Lagos","g":20,"s":"ASCAT","x":2019,"v":0.266,"e":0.065},
{"c":"Lagos","g":20,"s":"ASCAT","x":2020,"v":0.256,"e":0.06},
{"c":"Lagos","g":10,"s":"QSCAT","x":1999,"v":0.104,"e":0.025},
{"c":"Lagos","g":10,"s":"QSCAT","x":2000,"v":0.104,"e":0.025},
{"c":"Lagos","g":10,"s":"QSCAT","x":2001,"v":0.104,"e":0.025},
{"c":"Lagos","g":10,"s":"QSCAT","x":2002,"v":0.11,"e":0.025},
{"c":"Lagos","g":10,"s":"QSCAT","x":2003,"v":0.107,"e":0.025},
{"c":"Lagos","g":10,"s":"QSCAT","x":2004,"v":0.112,"e":0.025},
{"c":"Lagos","g":10,"s":"QSCAT","x":2005,"v":0.112,"e":0.025},
{"c":"Lagos","g":10,"s":"QSCAT","x":2006,"v":0.115,"e":0.025},
{"c":"Lagos","g":10,"s":"QSCAT","x":2007,"v":0.117,"e":0.028},
{"c":"Lagos","g":10,"s":"QSCAT","x":2008,"v":0.123,"e":0.03},
{"c":"Lagos","g":10,"s":"QSCAT","x":2009,"v":0.115,"e":0.025},
{"c":"Lagos","g":10,"s":"ERS","x":1993,"v":0.144,"e":0.03},
{"c":"Lagos","g":10,"s":"ERS","x":1994,"v":0.144,"e":0.028},
{"c":"Lagos","g":10,"s":"ERS","x":1995,"v":0.151,"e":0.03},
{"c":"Lagos","g":10,"s":"ERS","x":1996,"v":0.144,"e":0.028},
{"c":"Lagos","g":10,"s":"ERS","x":1997,"v":0.151,"e":0.028},
{"c":"Lagos","g":10,"s":"ERS","x":1998,"v":0.146,"e":0.028},
{"c":"Lagos","g":10,"s":"ERS","x":1999,"v":0.151,"e":0.028},
{"c":"Lagos","g":10,"s":"ERS","x":2000,"v":0.157,"e":0.028},
{"c":"Lagos","g":10,"s":"QSCAT + offset","x":1999,"v":0.175,"e":0.028},
{"c":"Lagos","g":10,"s":"QSCAT + offset","x":2000,"v":0.178,"e":0.028},
{"c":"Lagos","g":10,"s":"QSCAT + offset","x":2001,"v":0.175,"e":0.028},
{"c":"Lagos","g":10,"s":"QSCAT + offset","x":2002,"v":0.18,"e":0.028},
{"c":"Lagos","g":10,"s":"QSCAT + offset","x":2003,"v":0.18,"e":0.028},
{"c":"Lagos","g":10,"s":"QSCAT + offset","x":2004,"v":0.183,"e":0.028},
{"c":"Lagos","g":10,"s":"QSCAT + offset","x":2005,"v":0.183,"e":0.028},
{"c":"Lagos","g":10,"s":"QSCAT + offset","x":2006,"v":0.188,"e":0.028},
{"c":"Lagos","g":10,"s":"QSCAT + offset","x":2007,"v":0.193,"e":0.03},
{"c":"Lagos","g":10,"s":"QSCAT + offset","x":2008,"v":0.193,"e":0.03},
{"c":"Lagos","g":10,"s":"QSCAT + offset","x":2009,"v":0.183,"e":0.028},
{"c":"Lagos","g":10,"s":"ASCAT","x":2007,"v":0.196,"e":0.05},
{"c":"Lagos","g":10,"s":"ASCAT","x":2008,"v":0.204,"e":0.055},
{"c":"Lagos","g":10,"s":"ASCAT","x":2009,"v":0.196,"e":0.05},
{"c":"Lagos","g":10,"s":"ASCAT","x":2010,"v":0.206,"e":0.055},
{"c":"Lagos","g":10,"s":"ASCAT","x":2011,"v":0.214,"e":0.058},
{"c":"Lagos","g":10,"s":"ASCAT","x":2012,"v":0.209,"e":0.058},
{"c":"Lagos","g":10,"s":"ASCAT","x":2013,"v":0.217,"e":0.058},
{"c":"Lagos","g":10,"s":"ASCAT","x":2014,"v":0.243,"e":0.065},
{"c":"Lagos","g":10,"s":"ASCAT","x":2015,"v":0.227,"e":0.062},
{"c":"Lagos","g":10,"s":"ASCAT","x":2016,"v":0.243,"e":0.062},
{"c":"Lagos","g":10,"s":"ASCAT","x":2017,"v":0.258,"e":0.068},
{"c":"Lagos","g":10,"s":"ASCAT","x":2018,"v":0.269,"e":0.068},
{"c":"Lagos","g":10,"s":"ASCAT","x":2019,"v":0.266,"e":0.068},
{"c":"Lagos","g":10,"s":"ASCAT","x":2020,"v":0.256,"e":0.065},
{"c":"Aleppo","g":20,"s":"QSCAT","x":1999,"v":0.089,"e":0.01},
{"c":"Aleppo","g":20,"s":"QSCAT","x":2000,"v":0.091,"e":0.01},
{"c":"Aleppo","g":20,"s":"QSCAT","x":2001,"v":0.094,"e":0.01},
{"c":"Aleppo","g":20,"s":"QSCAT","x":2002,"v":0.094,"e":0.01},
{"c":"Aleppo","g":20,"s":"QSCAT","x":2003,"v":0.097,"e":0.01},
{"c":"Aleppo","g":20,"s":"QSCAT","x":2004,"v":0.102,"e":0.01},
{"c":"Aleppo","g":20,"s":"QSCAT","x":2005,"v":0.102,"e":0.01},
{"c":"Aleppo","g":20,"s":"QSCAT","x":2006,"v":0.102,"e":0.01},
{"c":"Aleppo","g":20,"s":"QSCAT","x":2007,"v":0.102,"e":0.01},
{"c":"Aleppo","g":20,"s":"QSCAT","x":2008,"v":0.102,"e":0.01},
{"c":"Aleppo","g":20,"s":"QSCAT","x":2009,"v":0.102,"e":0.01},
{"c":"Aleppo","g":20,"s":"ERS","x":1993,"v":0.104,"e":0.005},
{"c":"Aleppo","g":20,"s":"ERS","x":1994,"v":0.11,"e":0.005},
{"c":"Aleppo","g":20,"s":"ERS","x":1995,"v":0.11,"e":0.005},
{"c":"Aleppo","g":20,"s":"ERS","x":1996,"v":0.11,"e":0.005},
{"c":"Aleppo","g":20,"s":"ERS","x":1997,"v":0.115,"e":0.005},
{"c":"Aleppo","g":20,"s":"ERS","x":1998,"v":0.115,"e":0.005},
{"c":"Aleppo","g":20,"s":"ERS","x":1999,"v":0.11,"e":0.005},
{"c":"Aleppo","g":20,"s":"ERS","x":2000,"v":0.11,"e":0.005},
{"c":"Aleppo","g":20,"s":"QSCAT + offset","x":1999,"v":0.128,"e":0.008},
{"c":"Aleppo","g":20,"s":"QSCAT + offset","x":2000,"v":0.131,"e":0.008},
{"c":"Aleppo","g":20,"s":"QSCAT + offset","x":2001,"v":0.133,"e":0.008},
{"c":"Aleppo","g":20,"s":"QSCAT + offset","x":2002,"v":0.133,"e":0.008},
{"c":"Aleppo","g":20,"s":"QSCAT + offset","x":2003,"v":0.136,"e":0.008},
{"c":"Aleppo","g":20,"s":"QSCAT + offset","x":2004,"v":0.144,"e":0.008},
{"c":"Aleppo","g":20,"s":"QSCAT + offset","x":2005,"v":0.141,"e":0.008},
{"c":"Aleppo","g":20,"s":"QSCAT + offset","x":2006,"v":0.141,"e":0.008},
{"c":"Aleppo","g":20,"s":"QSCAT + offset","x":2007,"v":0.141,"e":0.008},
{"c":"Aleppo","g":20,"s":"QSCAT + offset","x":2008,"v":0.141,"e":0.008},
{"c":"Aleppo","g":20,"s":"QSCAT + offset","x":2009,"v":0.144,"e":0.008},
{"c":"Aleppo","g":20,"s":"ASCAT","x":2007,"v":0.154,"e":0.01},
{"c":"Aleppo","g":20,"s":"ASCAT","x":2008,"v":0.154,"e":0.01},
{"c":"Aleppo","g":20,"s":"ASCAT","x":2009,"v":0.154,"e":0.01},
{"c":"Aleppo","g":20,"s":"ASCAT","x":2010,"v":0.162,"e":0.01},
{"c":"Aleppo","g":20,"s":"ASCAT","x":2011,"v":0.162,"e":0.01},
{"c":"Aleppo","g":20,"s":"ASCAT","x":2012,"v":0.167,"e":0.01},
{"c":"Aleppo","g":20,"s":"ASCAT","x":2013,"v":0.154,"e":0.01},
{"c":"Aleppo","g":20,"s":"ASCAT","x":2014,"v":0.144,"e":0.01},
{"c":"Aleppo","g":20,"s":"ASCAT","x":2015,"v":0.141,"e":0.01},
{"c":"Aleppo","g":20,"s":"ASCAT","x":2016,"v":0.141,"e":0.01},
{"c":"Aleppo","g":20,"s":"ASCAT","x":2017,"v":0.144,"e":0.01},
{"c":"Aleppo","g":20,"s":"ASCAT","x":2018,"v":0.146,"e":0.01},
{"c":"Aleppo","g":20,"s":"ASCAT","x":2019,"v":0.151,"e":0.01},
{"c":"Aleppo","g":20,"s":"ASCAT","x":2020,"v":0.15,"e":0.01},
{"c":"Aleppo","g":10,"s":"QSCAT","x":1999,"v":0.086,"e":0.01},
{"c":"Aleppo","g":10,"s":"QSCAT","x":2000,"v":0.089,"e":0.01},
{"c":"Aleppo","g":10,"s":"QSCAT","x":2001,"v":0.091,"e":0.01},
{"c":"Aleppo","g":10,"s":"QSCAT","x":2002,"v":0.091,"e":0.01},
{"c":"Aleppo","g":10,"s":"QSCAT","x":2003,"v":0.094,"e":0.01},
{"c":"Aleppo","g":10,"s":"QSCAT","x":2004,"v":0.097,"e":0.01},
{"c":"Aleppo","g":10,"s":"QSCAT","x":2005,"v":0.097,"e":0.01},
{"c":"Aleppo","g":10,"s":"QSCAT","x":2006,"v":0.097,"e":0.01},
{"c":"Aleppo","g":10,"s":"QSCAT","x":2007,"v":0.097,"e":0.01},
{"c":"Aleppo","g":10,"s":"QSCAT","x":2008,"v":0.097,"e":0.01},
{"c":"Aleppo","g":10,"s":"QSCAT","x":2009,"v":0.097,"e":0.01},
{"c":"Aleppo","g":10,"s":"ERS","x":1993,"v":0.102,"e":0.005},
{"c":"Aleppo","g":10,"s":"ERS","x":1994,"v":0.107,"e":0.005},
{"c":"Aleppo","g":10,"s":"ERS","x":1995,"v":0.107,"e":0.005},
{"c":"Aleppo","g":10,"s":"ERS","x":1996,"v":0.11,"e":0.005},
{"c":"Aleppo","g":10,"s":"ERS","x":1997,"v":0.112,"e":0.005},
{"c":"Aleppo","g":10,"s":"ERS","x":1998,"v":0.115,"e":0.005},
{"c":"Aleppo","g":10,"s":"ERS","x":1999,"v":0.115,"e":0.005},
{"c":"Aleppo","g":10,"s":"ERS","x":2000,"v":0.115,"e":0.005},
{"c":"Aleppo","g":10,"s":"QSCAT + offset","x":1999,"v":0.123,"e":0.008},
{"c":"Aleppo","g":10,"s":"QSCAT + offset","x":2000,"v":0.128,"e":0.008},
{"c":"Aleppo","g":10,"s":"QSCAT + offset","x":2001,"v":0.131,"e":0.008},
{"c":"Aleppo","g":10,"s":"QSCAT + offset","x":2002,"v":0.131,"e":0.008},
{"c":"Aleppo","g":10,"s":"QSCAT + offset","x":2003,"v":0.133,"e":0.008},
{"c":"Aleppo","g":10,"s":"QSCAT + offset","x":2004,"v":0.136,"e":0.008},
{"c":"Aleppo","g":10,"s":"QSCAT + offset","x":2005,"v":0.136,"e":0.008},
{"c":"Aleppo","g":10,"s":"QSCAT + offset","x":2006,"v":0.136,"e":0.008},
{"c":"Aleppo","g":10,"s":"QSCAT + offset","x":2007,"v":0.136,"e":0.008},
{"c":"Aleppo","g":10,"s":"QSCAT + offset","x":2008,"v":0.136,"e":0.008},
{"c":"Aleppo","g":10,"s":"QSCAT + offset","x":2009,"v":0.133,"e":0.008},
{"c":"Aleppo","g":10,"s":"ASCAT","x":2007,"v":0.144,"e":0.015},
{"c":"Aleppo","g":10,"s":"ASCAT","x":2008,"v":0.146,"e":0.015},
{"c":"Aleppo","g":10,"s":"ASCAT","x":2009,"v":0.144,"e":0.015},
{"c":"Aleppo","g":10,"s":"ASCAT","x":2010,"v":0.151,"e":0.015},
{"c":"Aleppo","g":10,"s":"ASCAT","x":2011,"v":0.151,"e":0.015},
{"c":"Aleppo","g":10,"s":"ASCAT","x":2012,"v":0.157,"e":0.015},
{"c":"Aleppo","g":10,"s":"ASCAT","x":2013,"v":0.144,"e":0.015},
{"c":"Aleppo","g":10,"s":"ASCAT","x":2014,"v":0.133,"e":0.015},
{"c":"Aleppo","g":10,"s":"ASCAT","x":2015,"v":0.133,"e":0.015},
{"c":"Aleppo","g":10,"s":"ASCAT","x":2016,"v":0.133,"e":0.015},
{"c":"Aleppo","g":10,"s":"ASCAT","x":2017,"v":0.136,"e":0.015},
{"c":"Aleppo","g":10,"s":"ASCAT","x":2018,"v":0.136,"e":0.015},
{"c":"Aleppo","g":10,"s":"ASCAT","x":2019,"v":0.141,"e":0.015},
{"c":"Aleppo","g":10,"s":"ASCAT","x":2020,"v":0.141,"e":0.015}
]},
"hconcat": [
{
  "title": {"text": "GHS BF₂₀₁₄ >= 20%", "dx": -12},
  "transform": [{"filter": "datum.g == 20"}],
  "facet": {"row": {"field": "c", "type": "nominal", "sort": ["Mexico City","Las Vegas","Munich","Moscow","Lagos","Aleppo"], "title": "mean Jul-Sep backscatter PR", "header": {"labels": false, "labelPadding": 0, "titleFontSize": 17, "titleFontWeight": "normal", "titleFont": "Lato", "titlePadding": -9, "titleColor": "#000"}}},
  "spacing": {"row": 14.6},
  "spec": {
    "width": 311, "height": 107,
    "layer": [
      {"mark": {"type": "errorbar", "ticks": {"size": 8, "thickness": 1}, "thickness": 1, "opacity": 0.7},
       "encoding": {
         "x": {"field": "x", "type": "quantitative", "scale": {"domain": [1991.87, 2021.03], "nice": false, "zero": false}, "axis": {"values": [1995,2000,2005,2010,2015,2020], "format": "d", "labelExpr": "datum.value == 2020 ? '' : datum.label", "title": null}},
         "y": {"field": "v", "type": "quantitative", "scale": {"domain": [-0.026, 0.832], "nice": false, "zero": false}, "axis": {"values": [0,0.2,0.4,0.6,0.8], "tickCount": 5, "labelExpr": "datum.value > 0.7 ? '' : format(datum.value, '.1f')", "labelOverlap": false, "title": null}},
         "yError": {"field": "e"},
         "color": {"field": "s", "type": "nominal", "scale": {"domain": ["ERS","QSCAT","QSCAT + offset","ASCAT"], "range": ["#ff1a1a","#2ba39e","#1414ff","#e0a82e"]}}
       }},
      {"mark": {"type": "point", "filled": true, "size": 45, "opacity": 1},
       "encoding": {
         "x": {"field": "x", "type": "quantitative"},
         "y": {"field": "v", "type": "quantitative", "axis": {"values": [0,0.2,0.4,0.6,0.8], "tickCount": 5, "labelExpr": "datum.value > 0.7 ? '' : format(datum.value, '.1f')", "labelOverlap": false, "title": null}},
         "color": {"field": "s", "type": "nominal", "legend": {"orient": "none", "legendX": 0, "legendY": -1, "title": null, "strokeColor": "#000", "fillColor": "#fff", "padding": 3, "labelFont": "Liberation Sans", "labelFontSize": 13, "labelColor": "#000", "symbolSize": 45, "rowPadding": 0, "symbolStrokeWidth": 0, "labelOffset": 2, "symbolOpacity": 1}},
         "shape": {"field": "s", "type": "nominal", "scale": {"domain": ["ERS","QSCAT","QSCAT + offset","ASCAT"], "range": ["circle","square","circle","circle"]}}
       }},
      {"transform": [{"filter": "datum.s == 'QSCAT'"}],
       "mark": {"type": "point", "shape": "square", "filled": false, "stroke": "#ffffff", "strokeWidth": 1, "size": 10, "opacity": 0.9},
       "encoding": {"x": {"field": "x", "type": "quantitative"}, "y": {"field": "v", "type": "quantitative"}}},
      {"transform": [{"aggregate": [{"op": "count", "as": "n"}], "groupby": ["c"]}],
       "mark": {"type": "text", "align": "left", "baseline": "middle", "fontSize": 16, "font": "Lato", "color": "#000"},
       "encoding": {"x": {"datum": 2003.3, "type": "quantitative"}, "y": {"datum": 0.70, "type": "quantitative"}, "text": {"field": "c"}}}
    ]
  }
},
{
  "title": {"text": "GHS BF₂₀₁₄ >= 10%"},
  "transform": [{"filter": "datum.g == 10"}],
  "facet": {"row": {"field": "c", "type": "nominal", "sort": ["Mexico City","Las Vegas","Munich","Moscow","Lagos","Aleppo"], "title": null, "header": {"labels": false, "labelPadding": 0}}},
  "spacing": {"row": 14.6},
  "spec": {
    "width": 311, "height": 107,
    "layer": [
      {"mark": {"type": "errorbar", "ticks": {"size": 8, "thickness": 1}, "thickness": 1, "opacity": 0.7},
       "encoding": {
         "x": {"field": "x", "type": "quantitative", "scale": {"domain": [1991.87, 2021.03], "nice": false, "zero": false}, "axis": {"values": [1995,2000,2005,2010,2015,2020], "format": "d", "labelExpr": "datum.value == 2020 ? '' : datum.label", "title": null}},
         "y": {"field": "v", "type": "quantitative", "scale": {"domain": [-0.026, 0.832], "nice": false, "zero": false}, "axis": {"values": [0,0.2,0.4,0.6,0.8], "tickCount": 5, "labels": false, "title": null}},
         "yError": {"field": "e"},
         "color": {"field": "s", "type": "nominal"}
       }},
      {"mark": {"type": "point", "filled": true, "size": 45, "opacity": 1},
       "encoding": {
         "x": {"field": "x", "type": "quantitative"},
         "y": {"field": "v", "type": "quantitative", "axis": {"values": [0,0.2,0.4,0.6,0.8], "tickCount": 5, "labels": false, "title": null}},
         "color": {"field": "s", "type": "nominal"},
         "shape": {"field": "s", "type": "nominal"}
       }},
      {"transform": [{"filter": "datum.s == 'QSCAT'"}],
       "mark": {"type": "point", "shape": "square", "filled": false, "stroke": "#ffffff", "strokeWidth": 1, "size": 10, "opacity": 0.9},
       "encoding": {"x": {"field": "x", "type": "quantitative"}, "y": {"field": "v", "type": "quantitative"}}},
      {"transform": [{"aggregate": [{"op": "count", "as": "n"}], "groupby": ["c"]}],
       "mark": {"type": "text", "align": "left", "baseline": "middle", "fontSize": 16, "font": "Lato", "color": "#000"},
       "encoding": {"x": {"datum": 2003.3, "type": "quantitative"}, "y": {"datum": 0.70, "type": "quantitative"}, "text": {"field": "c"}}}
    ]
  }
}
]
}
